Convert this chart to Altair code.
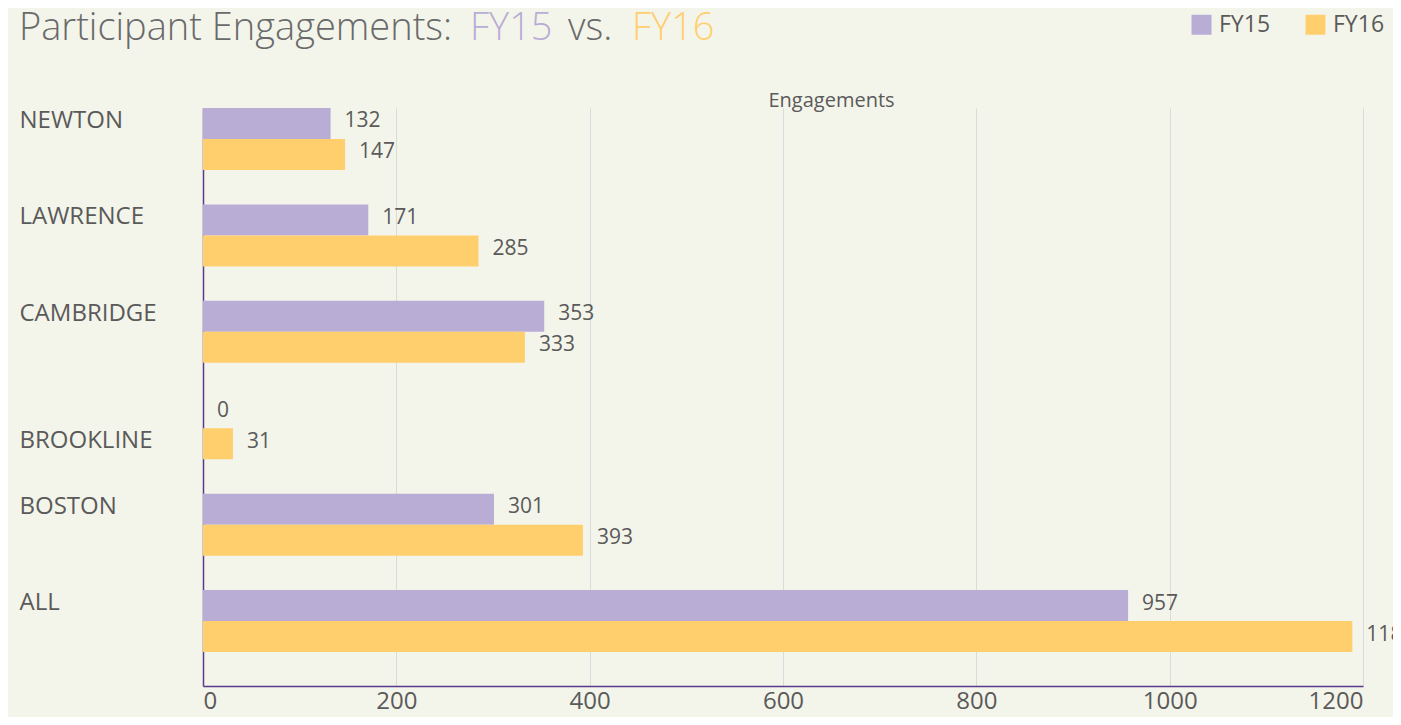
import altair as alt
import pandas as pd

cities = ["NEWTON", "LAWRENCE", "CAMBRIDGE", "BROOKLINE", "BOSTON", "ALL"]
fy15 = [132, 171, 353, 0, 301, 957]
fy16 = [147, 285, 333, 31, 393, 1189]
series = ["FY15", "FY16"]
colors = ["#B9ADD6", "#FFCF6E"]
x_ticks = [0, 200, 400, 600, 800, 1000, 1200]

rows = []
for c, a, b in zip(cities, fy15, fy16):
    rows.append({"city": c, "year": "FY15", "value": a})
    rows.append({"city": c, "year": "FY16", "value": b})
df = pd.DataFrame(rows)

TXT = "#5a5a5a"
FONT = "Open Sans"

y_enc = alt.Y(
    "city:N", sort=cities, title=None,
    scale=alt.Scale(paddingInner=0.357, paddingOuter=0.176, align=0),
    axis=alt.Axis(labelAlign="left", labelPadding=184, labelFontSize=24, labelColor=TXT,
                  labelFont=FONT,
                  labelOffset={"condition": {"test": "datum.value == 'BROOKLINE'", "value": 13},
                               "value": -18},
                  ticks=False, domainColor="#5B3A8E",
                  domainWidth=1.5, grid=False, labelBaseline="middle"),
)
yoff = alt.YOffset("year:N", sort=series, scale=alt.Scale(paddingInner=0, paddingOuter=0))
color = alt.Color(
    "year:N", scale=alt.Scale(domain=series, range=colors),
    legend=alt.Legend(orient="none", legendX=987, legendY=-95, direction="horizontal", title=None,
                      symbolType="square", symbolSize=400, symbolStrokeWidth=0, labelFontSize=23,
                      labelColor=TXT, labelFont=FONT, columnPadding=33, labelOffset=6, padding=0),
)
xscale = alt.Scale(domain=[0, 1200], nice=False)

bars = alt.Chart(df).mark_bar().encode(
    y=y_enc, yOffset=yoff, color=color,
    x=alt.X("value:Q", scale=xscale, title=None,
            axis=alt.Axis(values=x_ticks, format="d", grid=True, gridColor="#DADADA", gridWidth=1,
                          ticks=False, domainColor="#5B3A8E", domainWidth=1.5, labelFontSize=24,
                          labelColor=TXT, labelFont=FONT, labelPadding=3, orient="bottom")),
)

labels = alt.Chart(df).mark_text(align="left", baseline="middle", dx=14, dy=-2, fontSize=21,
                                 color=TXT, font=FONT).encode(
    y=alt.Y("city:N", sort=cities), yOffset=yoff,
    x=alt.X("value:Q", scale=xscale,
            axis=alt.Axis(orient="top", title="Engagements", labels=False, ticks=False, domain=False,
                          grid=False, titleFontSize=20, titleFontWeight="normal", titleColor=TXT,
                          titleFont=FONT, titleX=628, titleY=-2, titleBaseline="alphabetic",
                          titleAlign="center")),
    text="value:Q",
)

def title_piece(txt, xpos, col):
    return alt.Chart(pd.DataFrame({"t": [txt]})).mark_text(
        align="left", baseline="alphabetic", x=xpos, y=-68, fontSize=38, font="Open Sans",
        fontWeight=300, color=col).encode(text="t:N")

title_layers = [
    title_piece("Participant Engagements:", -184, "#6a6a6a"),
    title_piece("FY15", 267, "#B9ADD6"),
    title_piece("vs.", 365, "#6a6a6a"),
    title_piece("FY16", 429, "#FFCF6E"),
]

chart = alt.layer(bars, labels, *title_layers).resolve_axis(x="independent").properties(
    width=1160, height=578,
    autosize=alt.AutoSizeParams(type="none"),
    padding={"left": 195, "top": 100, "right": 30, "bottom": 31},
    background="#F4F5EA",
).configure_view(stroke=None)

chart.save("out.html", embed_options={"renderer": "svg", "actions": False})
